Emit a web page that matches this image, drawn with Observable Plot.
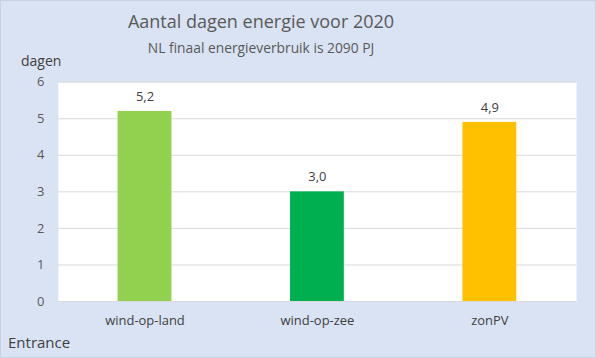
<!DOCTYPE html>
<html><head><meta charset="utf-8">
<script src="https://cdn.jsdelivr.net/npm/d3@7"></script>
<script src="https://cdn.jsdelivr.net/npm/@observablehq/plot@0.6"></script>
<style>
html,body{margin:0;padding:0;background:#fff;}
#wrap{position:relative;width:594px;height:356px;background:#dae3f3;border:1px solid #c9d1df;font-family:"Open Sans",sans-serif;color:#595959;overflow:hidden;}
#wrap svg{position:absolute;left:-1px;top:-1px;}
.t{position:absolute;white-space:nowrap;}
</style></head>
<body>
<div id="wrap">
<div class="t" id="title" style="left:0;width:520px;text-align:center;top:8px;font-size:18px;">Aantal dagen energie voor 2020</div>
<div class="t" id="sub" style="left:0;width:520px;text-align:center;top:37px;font-size:13.8px;">NL finaal energieverbruik is 2090 PJ</div>
<div class="t" style="left:20px;top:50px;font-size:14px;color:#404040;">dagen</div>
<div class="t" style="left:7px;top:331px;font-size:15px;color:#404040;">Entrance</div>
</div>
<script>
const categories = ["wind-op-land", "wind-op-zee", "zonPV"];
const values = [5.2, 3.0, 4.9];
const colors = ["#92d050", "#00b050", "#ffc000"];
const yTicks = [0, 1, 2, 3, 4, 5, 6];

const data = categories.map((c, i) => ({cat: c, v: values[i], col: colors[i]}));

const chart = Plot.plot({
  width: 596, height: 358,
  marginTop: 82, marginBottom: 56, marginLeft: 58, marginRight: 18,
  style: {background: "transparent", fontFamily: "'Open Sans', sans-serif", fontSize: "13px", color: "#595959"},
  x: {domain: categories, paddingInner: 0.69, paddingOuter: 0.345, label: null},
  y: {domain: [0, 6], ticks: yTicks, label: null},
  marks: [
    Plot.frame({fill: "white", stroke: null}),
    Plot.gridY(yTicks, {stroke: "#d9d9d9", strokeOpacity: 1}),
    Plot.axisY(yTicks, {tickSize: 0, tickPadding: 14, fontSize: 13, fill: "#595959"}),
    Plot.axisX({tickSize: 0, tickPadding: 14, fontSize: 13, fill: "#404040"}),
    Plot.barY(data, {x: "cat", y: "v", fill: "col"}),
    Plot.text(data, {x: "cat", y: "v", text: d => d.v.toFixed(1).replace(".", ","), dy: -15, fontSize: 13, fill: "#404040"})
  ]
});
document.getElementById("wrap").appendChild(chart);
</script>
</body></html>
